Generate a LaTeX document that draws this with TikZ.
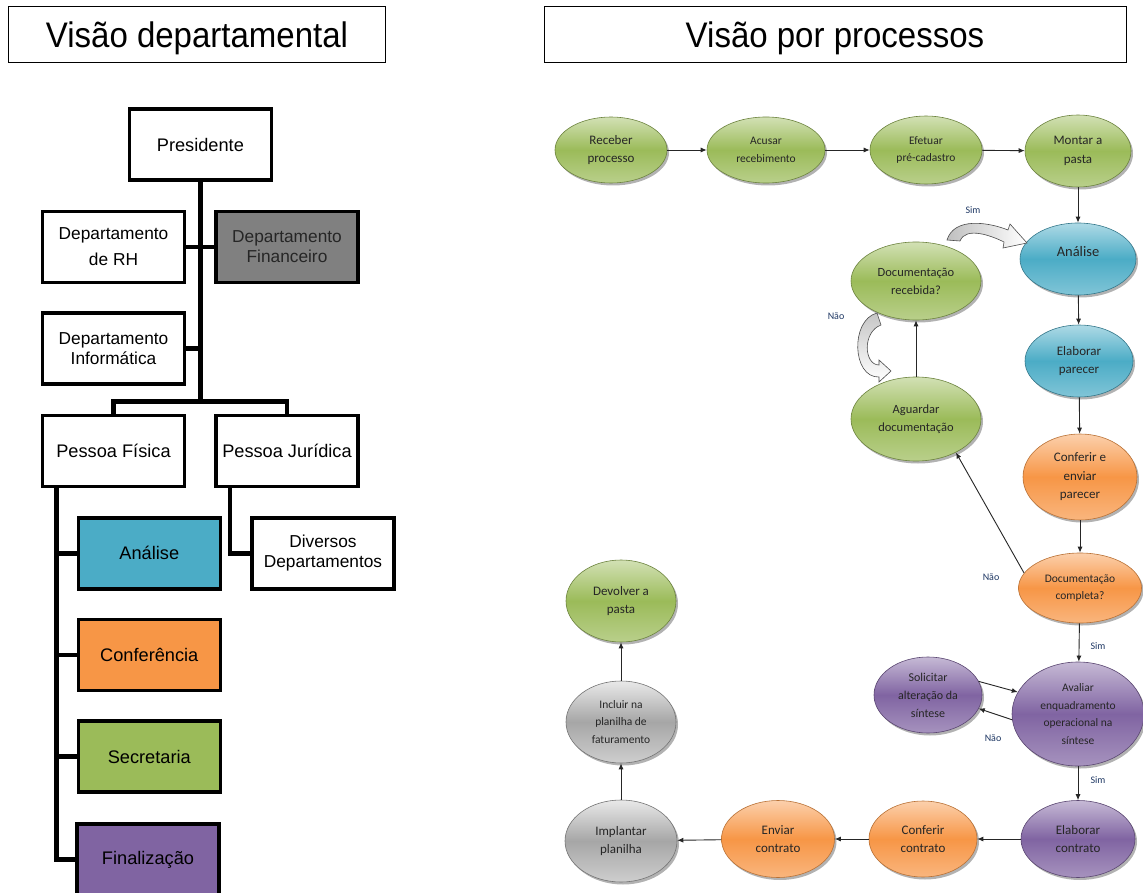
\documentclass[tikz,border=0pt]{standalone}
\usepackage{fontspec}
\setmainfont{Liberation Sans}
\newfontfamily\flowfont{Carlito}
\newfontfamily\titlefont[FakeStretch=0.93]{Liberation Sans}
\usetikzlibrary{shapes.geometric,arrows.meta,shadows,calc}

% palette
\definecolor{grnBase}{HTML}{9BBB59}
\definecolor{bluBase}{HTML}{4BACC6}
\definecolor{orgBase}{HTML}{F79646}
\definecolor{purBase}{HTML}{8064A2}
\definecolor{gryBase}{HTML}{A6A6A6}
\definecolor{finGray}{HTML}{808080}
\definecolor{lblBlue}{HTML}{1F3864}
\definecolor{txtDark}{HTML}{262626}

\tikzset{
  titlebox/.style={draw=black, line width=1pt, inner sep=0pt, text depth=0pt,
    font=\titlefont\fontsize{35.5}{40}\selectfont},
  orgbox/.style={draw=black, line width=3.5pt, minimum width=142pt, minimum height=71pt,
    inner sep=0pt, align=center, text=black, font=\fontsize{18.2}{21}\selectfont},
  deptfont/.style={font=\fontsize{17.3}{20}\selectfont},
  orgline/.style={line width=4.5pt, line join=miter},
  proc/.style={ellipse, inner sep=0pt, align=center, line width=0.6pt, text=txtDark,
    font=\flowfont\fontsize{12.5}{18}\selectfont,
    drop shadow={shadow xshift=2pt, shadow yshift=-2.5pt, opacity=0.3, fill=black}},
  procG/.style={proc, draw=grnBase!70!black, top color=grnBase!45!white,
    bottom color=grnBase!70!white, middle color=grnBase},
  procB/.style={proc, draw=bluBase!70!black, top color=bluBase!45!white,
    bottom color=bluBase!70!white, middle color=bluBase},
  procO/.style={proc, draw=orgBase!75!black, top color=orgBase!45!white,
    bottom color=orgBase!70!white, middle color=orgBase},
  procP/.style={proc, draw=purBase!70!black, top color=purBase!45!white,
    bottom color=purBase!70!white, middle color=purBase},
  procY/.style={proc, draw=gryBase!70!black, top color=gryBase!25!white,
    bottom color=gryBase!55!white, middle color=gryBase},
  small/.style={font=\flowfont\fontsize{11.5}{17.5}\selectfont},
  big/.style={font=\flowfont\fontsize{13}{18.5}\selectfont},
  flow/.style={-{Latex[length=6pt,width=5pt]}, line width=0.9pt, black!85},
  lbl/.style={font=\flowfont\fontsize{10}{12}\selectfont, text=lblBlue, inner sep=0pt},
  blockarrow/.style={draw=gray!60!black, line width=0.6pt}
}

\begin{document}
\begin{tikzpicture}[x=1pt,y=-1pt]
\clip (0,0) rectangle (1143,893);
\fill[white] (0,0) rectangle (1143,893);

% headings
\node[titlebox, minimum width=377pt, minimum height=56pt] (tdep) at (197,34.7) {Visão departamental};
\node[titlebox, minimum width=582pt, minimum height=56pt] (tproc) at (835,34.7) {Visão por processos};

% ---------------- organisation chart ----------------
\node[orgbox] (pres) at (200.4,144.7) {Presidente};
\node[orgbox, deptfont] (rh) at (113.5,247) {Departamento\\[6pt]de RH};
\node[orgbox, deptfont, fill=finGray, text=txtDark] (fin) at (287,247) {Departamento\\Financeiro};
\node[orgbox, deptfont] (inf) at (113.5,348.7) {Departamento\\Informática};
\node[orgbox] (pf) at (113.5,450.8) {Pessoa Física};
\node[orgbox] (pj) at (287,450.8) {Pessoa Jurídica};
\node[orgbox, fill=bluBase] (oana) at (149.3,553.3) {Análise};
\node[orgbox, fill=orgBase] (ocon) at (149.3,655) {Conferência};
\node[orgbox, fill=grnBase] (osec) at (149.3,756.7) {Secretaria};
\node[orgbox, fill=purBase] (ofin) at (148,859.5) {Finalização};
\node[orgbox, deptfont] (div) at (323,553.3) {Diversos\\Departamentos};

\coordinate (bj) at (200.4,401.7);
\draw[orgline] (pres.south) -- (bj);
\draw[orgline] (pf.north) |- (bj) -| (pj.north);
\draw[orgline] (rh.east) -- (fin.west);
\draw[orgline] (inf.east) -- (inf.east -| bj);
\draw[orgline] ([xshift=15.5pt]pf.south west) |- (oana.west);
\draw[orgline] ([xshift=15.5pt]pf.south west) |- (ocon.west);
\draw[orgline] ([xshift=15.5pt]pf.south west) |- (osec.west);
\draw[orgline] ([xshift=15.5pt]pf.south west) |- (ofin.west);
\draw[orgline] ([xshift=15.5pt]pj.south west) |- (div.west);

% ---------------- process flow ----------------
\node[procG, minimum width=112pt, minimum height=66pt, big] (rec) at (611,150) {Receber\\processo};
\node[procG, minimum width=118pt, minimum height=66pt, small] (acu) at (766,150) {Acusar\\recebimento};
\node[procG, minimum width=112pt, minimum height=68pt, small] (efe) at (926,150) {Efetuar\\pré-cadastro};
\node[procG, minimum width=106pt, minimum height=72pt, big] (mon) at (1078,151) {Montar a\\pasta};
\node[procB, minimum width=116pt, minimum height=72pt, text depth=16pt,
      font=\flowfont\fontsize{14.5}{18}\selectfont] (ana) at (1078,259) {Análise};
\node[procG, minimum width=130pt, minimum height=78pt] (docrec) at (916,281) {Documentação\\recebida?};
\node[procB, minimum width=108pt, minimum height=72pt, big] (elp) at (1079,361) {Elaborar\\parecer};
\node[procG, minimum width=130pt, minimum height=84pt] (agu) at (916,419) {Aguardar\\documentação};
\node[procO, minimum width=114pt, minimum height=86pt, big] (cep) at (1080,477) {Conferir e\\enviar\\parecer};
\node[procO, minimum width=123pt, minimum height=70pt, small] (dcp) at (1080,588) {Documentação\\completa?};
\node[procP, minimum width=132pt, minimum height=104pt, small] (ava) at (1078,714) {Avaliar\\enquadramento\\operacional na\\síntese};
\node[procP, minimum width=108pt, minimum height=76pt, font=\flowfont\fontsize{12}{18}\selectfont] (sol) at (928,695) {Solicitar\\alteração da\\síntese};
\node[procP, minimum width=114pt, minimum height=77pt, big] (elc) at (1078,839) {Elaborar\\contrato};
\node[procO, minimum width=108pt, minimum height=76pt, big] (coc) at (923,839) {Conferir\\contrato};
\node[procO, minimum width=113pt, minimum height=77pt, big] (env) at (778,839) {Enviar\\contrato};
\node[procY, minimum width=112pt, minimum height=82pt, big] (imp) at (621,841) {Implantar\\planilha};
\node[procY, minimum width=110pt, minimum height=82pt, small] (inc) at (621,722) {Incluir na\\planilha de\\faturamento};
\node[procG, minimum width=110pt, minimum height=82pt, big] (dev) at (621,601) {Devolver a\\pasta};

% connectors
\draw[flow] (rec) -- (acu);
\draw[flow] (acu) -- (efe);
\draw[flow] (efe) -- (mon);
\draw[flow] (mon) -- (ana);
\draw[flow] (ana) -- (elp);
\draw[flow] (elp) -- (cep);
\draw[flow] (cep) -- (dcp);
\draw[flow] (dcp.165) -- (agu.-40);
\draw[flow] (agu) -- (docrec);
\draw[flow] (dcp) -- (ava);
\draw[flow] (sol.15) -- (ava.160);
\draw[flow] (ava.185) -- (sol.-15);
\draw[flow] (ava) -- (elc);
\draw[flow] (elc) -- (coc);
\draw[flow] (coc) -- (env);
\draw[flow] (env) -- (imp);
\draw[flow] (imp) -- (inc);
\draw[flow] (inc) -- (dev);

% curved block arrows
\draw[blockarrow, left color=gray!50, right color=white]
  (947,240) .. controls (954,217) and (988,222) .. (1008,230)
  -- (1010,224) -- (1027,243) -- (1003,248) -- (1004,242)
  .. controls (992,236) and (966,226) .. (960,241) -- cycle;
\draw[blockarrow, top color=gray!45, bottom color=white]
  (877,313) .. controls (850,320) and (852,378) .. (879,377)
  -- (879,382) -- (891,371) -- (879,360) -- (879,365)
  .. controls (864,365) and (862,332) .. (881,325) -- cycle;

% branch labels
\node[lbl] (lsim1) at (973,210) {Sim};
\node[lbl] (lnao1) at (836,316) {Não};
\node[lbl] (lnao2) at (991,577) {Não};
\node[lbl] (lsim2) at (1098,646) {Sim};
\node[lbl] (lnao3) at (993,738) {Não};
\node[lbl] (lsim3) at (1098,780) {Sim};
\end{tikzpicture}
\end{document}
